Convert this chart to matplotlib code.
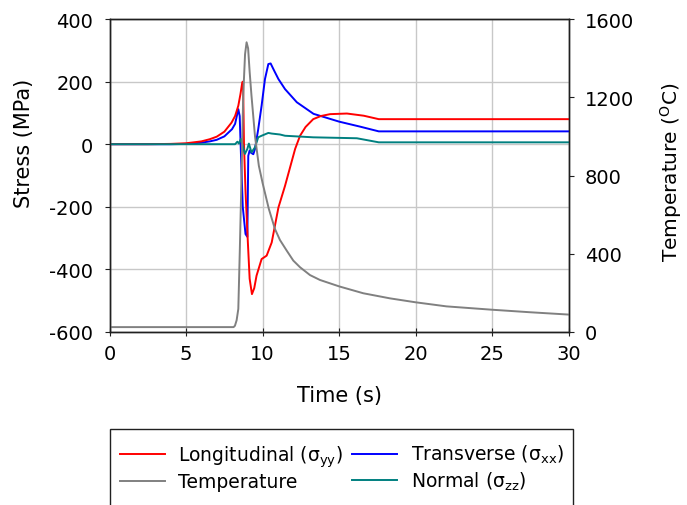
import matplotlib
matplotlib.use("Agg")
import matplotlib.pyplot as plt
from matplotlib.patches import Rectangle

plt.rcParams['font.family'] = ['DejaVu Sans']
plt.rcParams['mathtext.default'] = 'regular'

# ---- data ----
t_long = [0, 2.5, 4, 5, 6, 6.55, 7, 7.5, 7.97, 8.2, 8.41, 8.55, 8.67, 8.72, 8.78, 8.88,
          9.02, 9.15, 9.3, 9.45, 9.6, 9.93, 10.26, 10.59, 11.03, 11.46, 11.79, 12.12,
          12.44, 12.8, 13.3, 13.8, 14.4, 15.5, 16.6, 17.58, 30]
s_long = [0, 0, 1, 3, 9, 16, 24, 40, 69, 90, 123, 160, 198, 200, 0, -150,
          -300, -430, -479, -460, -420, -367, -356, -314, -202, -133, -74, -15,
          27, 55, 80, 90, 96, 98, 91, 80, 80]

t_trans = [0, 4, 5, 6, 6.55, 7, 7.5, 8.0, 8.2, 8.41, 8.5, 8.56, 8.7, 8.88, 9.0, 9.06,
           9.15, 9.23, 9.39, 9.5, 9.71, 9.93, 10.15, 10.37, 10.52, 10.75, 11.03, 11.46,
           12.23, 13.32, 15.0, 16.37, 17.58, 30]
s_trans = [0, 0, 1, 5, 9, 14, 25, 48, 65, 112, 90, 0, -200, -287, -296, -37,
           -20, -27, -32, -15, 48, 123, 208, 256, 258, 235, 208, 176,
           134, 97, 72, 56, 41, 41]

t_norm = [0, 8.2, 8.35, 8.45, 8.58, 8.7, 8.84, 9.0, 9.1, 9.27, 9.5, 9.71, 9.93, 10.37,
          10.59, 11.13, 11.46, 13.3, 16.15, 17.58, 30]
s_norm = [0, 0, 8, 2, 17, -5, -31, -15, 2, -26, -10, 22, 27, 36,
          34, 31, 27, 22, 19, 6, 6]

t_temp = [0, 8.1, 8.19, 8.3, 8.41, 8.51, 8.62, 8.73, 8.85, 8.95, 9.05, 9.15, 9.27, 9.5,
          9.75, 10.0, 10.4, 10.8, 11.13, 11.57, 12.0, 12.44, 13.09, 13.74, 15.0, 16.57,
          18.31, 19.97, 22.0, 24.95, 27.45, 30]
temp = [25, 25, 32, 60, 118, 424, 800, 1208, 1420, 1481, 1450, 1330, 1208, 1000,
        850, 760, 630, 527, 470, 416, 365, 331, 291, 266, 233, 198,
        172, 152, 131, 114, 101, 89]

x_ticks = [0, 5, 10, 15, 20, 25, 30]
y_ticks = [-600, -400, -200, 0, 200, 400]
t_ticks = [0, 400, 800, 1200, 1600]

# ---- figure ----
W, H = 687, 506
fig = plt.figure(figsize=(W / 100, H / 100), dpi=100)
ax = fig.add_axes([109.5 / W, 1 - 333 / H, 459.5 / W, 313 / H])
ax2 = ax.twinx()

lw = 1.4
l1, = ax.plot(t_long, s_long, color='#ff0000', lw=lw, label='Longitudinal ($\\sigma_{yy}$)', zorder=4)
l2, = ax.plot(t_trans, s_trans, color='#0000ff', lw=lw, label='Transverse ($\\sigma_{xx}$)', zorder=3)
l4, = ax.plot(t_norm, s_norm, color='#008080', lw=lw, label='Normal ($\\sigma_{zz}$)', zorder=5)
l3, = ax2.plot(t_temp, temp, color='#808080', lw=lw, label='Temperature')

ax.set_xlim(0, 30)
ax.set_ylim(-600, 400)
ax2.set_ylim(0, 1600)
ax.set_xticks(x_ticks)
ax.set_yticks(y_ticks)
ax2.set_yticks(t_ticks)
ax.set_yticklabels([str(v) for v in y_ticks])

ax.grid(True, color='#c8c8c8', lw=1.0)
ax.set_axisbelow(True)

for a in (ax, ax2):
    for s in a.spines.values():
        s.set_color('#202020')
        s.set_linewidth(1.0)

fs = 14
fl = 15
ax.tick_params(axis='x', direction='inout', length=5.8, width=0.8, labelsize=fs, pad=5.5,
               colors='#202020', labelcolor='black')
ax.tick_params(axis='y', direction='out', length=3.6, width=0.8, labelsize=fs, pad=8,
               colors='#202020', labelcolor='black')
ax2.tick_params(axis='y', direction='out', length=3.6, width=0.8, labelsize=fs, pad=8,
                colors='#202020', labelcolor='black')

ax.set_xlabel('Time (s)', fontsize=fl)
ax.set_ylabel('Stress (MPa)', fontsize=fl)
ax2.set_ylabel('Temperature ($^{O}$C)', fontsize=14.5)
ax.xaxis.set_label_coords(0.5, (333 - 386) / 313)
ax.yaxis.set_label_coords((34 - 109.5) / 459.5, (333 - 143) / 313)
ax2.yaxis.set_label_coords((658 - 109.5) / 459.5, (333 - 172) / 313)

# legend frame extends past the bottom edge, as in the reference
fig.patches.append(Rectangle((110 / W, -0.05), 463 / W, 1 - 430.5 / H + 0.05,
                             transform=fig.transFigure, fill=False,
                             edgecolor='#202020', lw=1.0))
fig.legend([l1, l3, l2, l4], [l1.get_label(), l3.get_label(), l2.get_label(), l4.get_label()],
           loc='upper left', bbox_to_anchor=(120 / W, 1 - 444 / H), ncol=2,
           frameon=False, fontsize=13.5, handlelength=2.4, handletextpad=0.7,
           columnspacing=0.5, labelspacing=0.2, borderaxespad=0, borderpad=0)

fig.savefig('out.png', dpi=100)
